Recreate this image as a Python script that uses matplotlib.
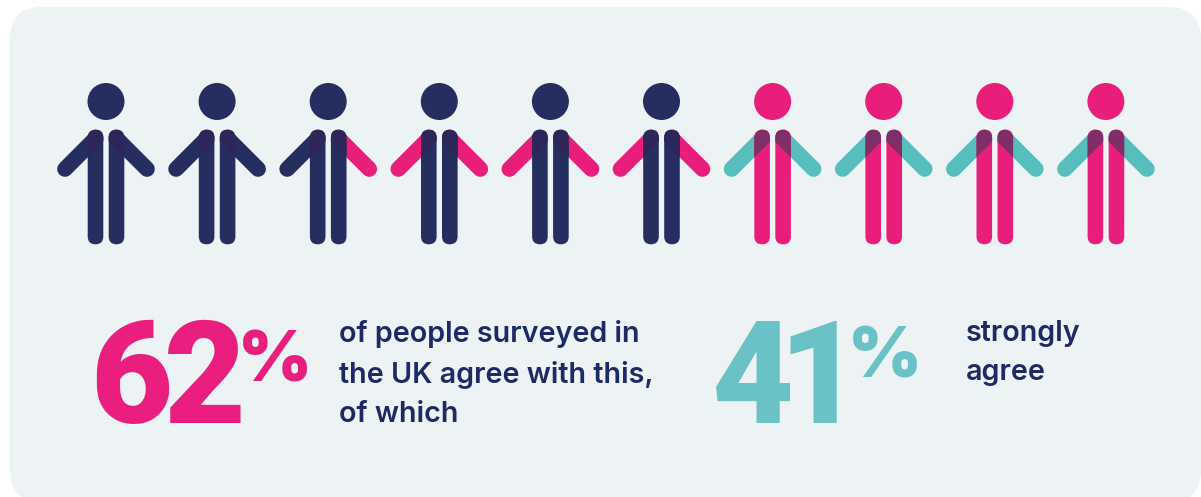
import matplotlib
matplotlib.use("Agg")
import matplotlib.pyplot as plt
from matplotlib.patches import Circle, FancyBboxPatch

NAVY = "#252E5F"
PINK = "#E91E7B"
TEAL = "#56BFBD"
NAVY_DARK = "#2E2558"
PINK_DARK = "#7F2F68"

head_colours = [NAVY] * 6 + [PINK] * 4
left_arms = [NAVY, NAVY, NAVY, PINK, PINK, PINK, TEAL, TEAL, TEAL, TEAL]
right_arms = [NAVY, NAVY, PINK, PINK, PINK, PINK, TEAL, TEAL, TEAL, TEAL]
overlap_colours = [NAVY_DARK] * 6 + [PINK_DARK] * 4

stat_values = ["62", "41"]
stat_colours = ["#EA1E7E", "#6AC2C7"]
stat_captions = ["of people surveyed in\nthe UK agree with this,\nof which", "strongly\nagree"]

fig = plt.figure(figsize=(12.01, 4.97), dpi=100, facecolor="white")
ax = fig.add_axes([0, 0, 1, 1])
ax.set_xlim(0, 1201)
ax.set_ylim(497, 0)
ax.axis("off")

# background panel, its lower corners just clipped by the figure edge
ax.add_patch(FancyBboxPatch((10 + 32, 7 + 32), 1191 - 64, 495 - 64, boxstyle="round,pad=32,rounding_size=32",
                            fc="#EDF2F5", ec="none"))


def draw_person(cx, head, left, right, overlap):
    ax.add_patch(Circle((cx, 101.5), 18.5, fc=head, ec="none"))
    for side, arm in ((-1, left), (1, right)):
        leg_x = cx + side * 10.5
        hand = (cx + side * 41, 169)
        ax.plot([hand[0], leg_x], [hand[1], 138.5], color=arm, lw=11.3, solid_capstyle="round")
        leg = FancyBboxPatch((leg_x - 3.5, 134), 7, 106, boxstyle="round,pad=4.3,rounding_size=7.8",
                             fc=head, ec="none", zorder=3)
        ax.add_patch(leg)
        # darker patch where the arm crosses the leg
        shade, = ax.plot([hand[0], leg_x - side * 14], [hand[1], 138.5 - 14], color=overlap, lw=11.3,
                         solid_capstyle="butt", zorder=4)
        shade.set_clip_path(leg)


for i, head in enumerate(head_colours):
    draw_person(106 + i * 111.1, head, left_arms[i], right_arms[i], overlap_colours[i])

big = dict(family=["Roboto", "DejaVu Sans"], fontweight="black", fontsize=102, ha="left", va="baseline")
pct = dict(family=["Inter", "DejaVu Sans"], fontweight="black", fontsize=51, ha="left", va="baseline")
small = dict(family=["Inter", "DejaVu Sans"], fontweight="semibold", fontsize=20.7, color="#1C2A66",
             ha="left", va="top", linespacing=1.58)

# digits placed one at a time, the default advance is too loose at this size
ax.text(90, 423, stat_values[0][0], color=stat_colours[0], **big)
ax.text(164, 423, stat_values[0][1], color=stat_colours[0], **big)
ax.text(238, 381, "%", color=stat_colours[0], **pct)
ax.text(339, 320, stat_captions[0], **small)

ax.text(712, 423, stat_values[1][0], color=stat_colours[1], **big)
ax.text(778, 423, stat_values[1][1], color=stat_colours[1], **big)
ax.text(848, 378, "%", color=stat_colours[1], **pct)
ax.text(966, 320, stat_captions[1], **small)

fig.savefig("out.png", dpi=100, facecolor=fig.get_facecolor())
